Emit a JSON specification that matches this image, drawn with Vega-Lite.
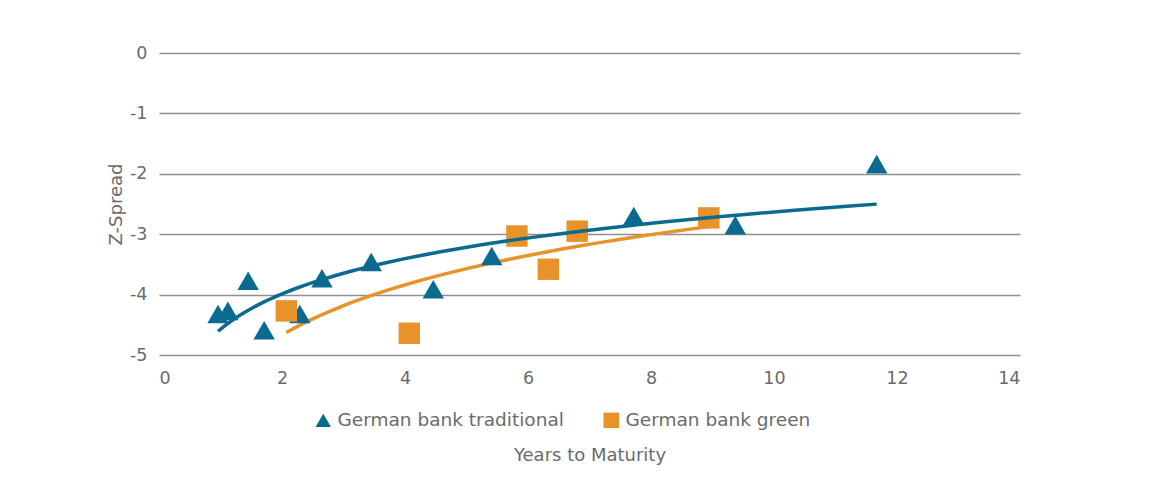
{
  "$schema": "https://vega.github.io/schema/vega-lite/v6.json",
  "width": 861,
  "height": 302,
  "autosize": {"type": "none"},
  "padding": {"left": 159, "top": 53, "right": 155, "bottom": 140},
  "background": "white",
  "config": {
    "font": "DejaVu Sans",
    "view": {"stroke": null},
    "axis": {"labelFont": "DejaVu Sans", "titleFont": "DejaVu Sans", "labelColor": "#6b6b6b", "titleColor": "#6b6b6b", "labelFontSize": 17.5, "titleFontSize": 18, "titleFontWeight": "normal", "gridColor": "#8f8f8f", "gridWidth": 1.3, "ticks": false, "domain": false},
    "legend": {"labelFont": "DejaVu Sans", "labelLimit": 0}
  },
  "data": {
    "values": [
      {"years": 0.96, "zspread": -4.32, "series": "German bank traditional"},
      {"years": 1.12, "zspread": -4.27, "series": "German bank traditional"},
      {"years": 1.45, "zspread": -3.77, "series": "German bank traditional"},
      {"years": 1.71, "zspread": -4.59, "series": "German bank traditional"},
      {"years": 2.29, "zspread": -4.32, "series": "German bank traditional"},
      {"years": 2.65, "zspread": -3.73, "series": "German bank traditional"},
      {"years": 3.45, "zspread": -3.46, "series": "German bank traditional"},
      {"years": 4.46, "zspread": -3.91, "series": "German bank traditional"},
      {"years": 5.41, "zspread": -3.36, "series": "German bank traditional"},
      {"years": 7.72, "zspread": -2.70, "series": "German bank traditional"},
      {"years": 9.37, "zspread": -2.85, "series": "German bank traditional"},
      {"years": 11.67, "zspread": -1.84, "series": "German bank traditional"},
      {"years": 2.07, "zspread": -4.27, "series": "German bank green"},
      {"years": 4.07, "zspread": -4.64, "series": "German bank green"},
      {"years": 5.82, "zspread": -3.03, "series": "German bank green"},
      {"years": 6.33, "zspread": -3.58, "series": "German bank green"},
      {"years": 6.80, "zspread": -2.95, "series": "German bank green"},
      {"years": 8.94, "zspread": -2.73, "series": "German bank green"}
    ]
  },
  "encoding": {
    "x": {"field": "years", "type": "quantitative", "title": "Years to Maturity",
      "scale": {"domain": [0, 14], "nice": false},
      "axis": {"values": [0, 2, 4, 6, 8, 10, 12, 14], "grid": false, "labelPadding": 14, "titlePadding": 60}},
    "y": {"field": "zspread", "type": "quantitative", "title": "Z-Spread",
      "scale": {"domain": [-5, 0], "nice": false},
      "axis": {"values": [-5, -4, -3, -2, -1, 0], "labelPadding": 12, "titlePadding": 4,
        "labelExpr": "datum.value < 0 ? '-' + abs(datum.value) : '' + datum.value"}}
  },
  "layer": [
    {
      "transform": [{"filter": "datum.series === 'German bank green'"}, {"regression": "zspread", "on": "years", "method": "log"}],
      "mark": {"type": "line", "strokeWidth": 3.5, "color": "#e8922a"}
    },
    {
      "mark": {"type": "point", "filled": true, "opacity": 1, "size": 460},
      "encoding": {
        "shape": {"field": "series", "type": "nominal",
          "scale": {"domain": ["German bank traditional", "German bank green"], "range": ["triangle-up", "square"]},
          "legend": {"orient": "none", "legendX": 155, "legendY": 358, "direction": "horizontal", "title": null,
            "labelFontSize": 18.5, "labelColor": "#6b6b6b", "symbolSize": 240, "columnPadding": 38, "labelOffset": 5}},
        "color": {"field": "series", "type": "nominal",
          "scale": {"domain": ["German bank traditional", "German bank green"], "range": ["#0b6a8f", "#e8922a"]},
          "legend": {"orient": "none", "legendX": 155, "legendY": 358, "direction": "horizontal", "title": null,
            "labelFontSize": 18.5, "labelColor": "#6b6b6b", "symbolSize": 240, "columnPadding": 38, "labelOffset": 5}}
      }
    },
    {
      "transform": [{"filter": "datum.series === 'German bank traditional'"}, {"regression": "zspread", "on": "years", "method": "log"}],
      "mark": {"type": "line", "strokeWidth": 3.5, "color": "#0b6a8f"}
    }
  ]
}
